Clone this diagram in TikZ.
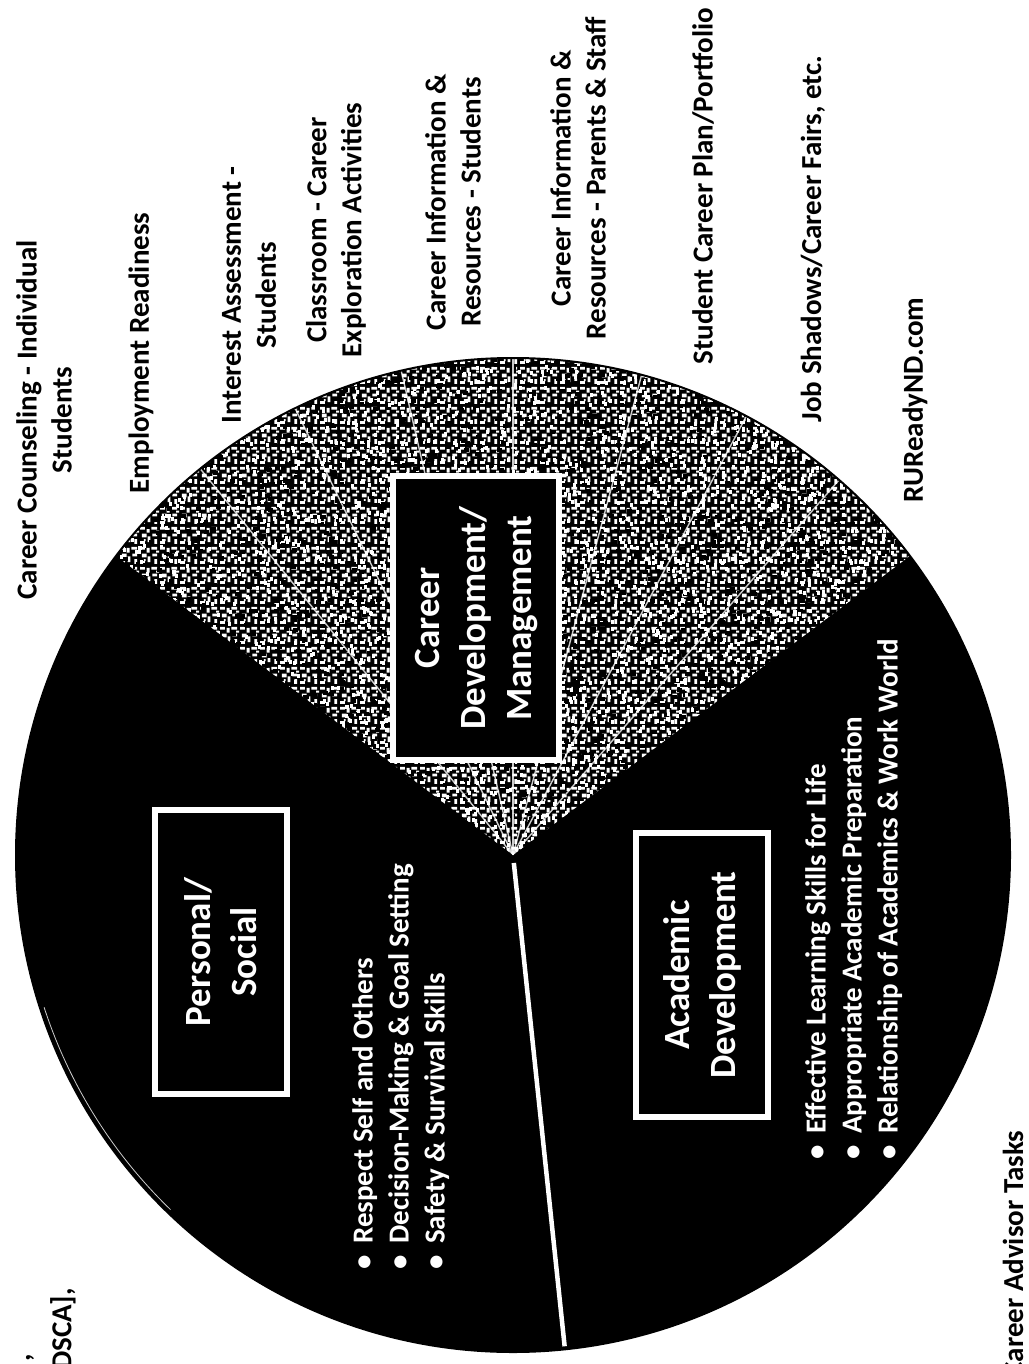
\documentclass[tikz,border=0pt]{standalone}
\usepackage{fontspec}
\setmainfont{Carlito}
\usetikzlibrary{patterns}
\pgfdeclarepatternformonly{speckle}{\pgfpointorigin}{\pgfpoint{20pt}{20pt}}{\pgfpoint{20pt}{20pt}}{%
  \pgfpathrectangle{\pgfpoint{0pt}{0pt}}{\pgfpoint{5pt}{3pt}}%
  \pgfpathrectangle{\pgfpoint{8pt}{2pt}}{\pgfpoint{3pt}{6pt}}%
  \pgfpathrectangle{\pgfpoint{15pt}{0pt}}{\pgfpoint{3pt}{5pt}}%
  \pgfpathrectangle{\pgfpoint{2pt}{7pt}}{\pgfpoint{5pt}{4pt}}%
  \pgfpathrectangle{\pgfpoint{13pt}{8pt}}{\pgfpoint{5pt}{3pt}}%
  \pgfpathrectangle{\pgfpoint{7pt}{12pt}}{\pgfpoint{3pt}{5pt}}%
  \pgfpathrectangle{\pgfpoint{0pt}{15pt}}{\pgfpoint{5pt}{3pt}}%
  \pgfpathrectangle{\pgfpoint{12pt}{15pt}}{\pgfpoint{6pt}{3pt}}%
  \pgfpathrectangle{\pgfpoint{17pt}{12pt}}{\pgfpoint{3pt}{2pt}}%
  \pgfpathrectangle{\pgfpoint{4pt}{3pt}}{\pgfpoint{2pt}{2pt}}%
  \pgfusepath{fill}}
\begin{document}
\begin{tikzpicture}[x=1pt,y=1pt,
  lab/.style={rotate=90, align=center, inner sep=0pt, font=\fontsize{29}{35}\selectfont\bfseries, text=black},
  catbox/.style={rotate=90, align=center, draw=white, fill=black, line width=6pt, text=white,
     font=\fontsize{37}{46}\selectfont\bfseries, minimum width=284pt, inner sep=0pt},
  bul/.style={rotate=90, align=left, inner sep=0pt, text=white, font=\fontsize{29}{36}\selectfont\bfseries},
  fanline/.style={white, line width=1.4pt, opacity=0.8}]
\useasboundingbox (0,0) rectangle (1028,-1364);
\clip (0,0) rectangle (1028,-1364);
\fill[white] (0,0) rectangle (1028,-1364);
\coordinate (O) at (513,-855);
% disc
\fill[black] (O) circle[radius=497];
% career sector (textured)
\begin{scope}
  \clip (O) -- ([shift={(O)}]37:497) arc[start angle=37, end angle=143, radius=497] -- cycle;
  \fill[black] (O) circle[radius=497];
  \fill[pattern=speckle, pattern color=white] (O) circle[radius=497];
  \pgfmathsetseed{42}
  \foreach \i in {1,...,1300}{
    \pgfmathsetmacro{\aa}{35+110*rnd}
    \pgfmathsetmacro{\rr}{500*sqrt(rnd)}
    \fill[black,shift={(O)}] (\aa:\rr) rectangle ++(5,4);
  }
  \foreach \i in {1,...,1800}{
    \pgfmathsetmacro{\aa}{35+110*rnd}
    \pgfmathsetmacro{\rr}{500*sqrt(rnd)}
    \fill[white,shift={(O)}] (\aa:\rr) rectangle ++(3,4);
  }
  \foreach \t in {49,62,75,90,103,116,129}
    \draw[fanline] (O) -- ([shift={(O)}]\t:497);
\end{scope}
% outline and dividers
\draw[line width=2pt] (O) circle[radius=497];
\draw[white, line width=4.5pt] ([shift={(O)}]-84:8) -- ([shift={(O)}]-84:494);
\draw[white, line width=0.8pt, opacity=0.8] ([shift={(O)}]198:493) arc[start angle=198, end angle=226, radius=493];
% category boxes
\node[catbox, minimum height=166pt] (career) at (476,-618) {Career\\Development/\\Management};
\node[catbox, minimum height=132pt] (personal) at (221,-952) {Personal/\\Social};
\node[catbox, minimum height=132pt] (academic) at (702,-975) {Academic\\Development};
% bullet lists
\node[bul, anchor=north west] (plist) at (352,-1270)
  {•\hspace{0.4em}Respect Self and Others\\
   •\hspace{0.4em}Decision-Making \& Goal Setting\\
   •\hspace{0.4em}Safety \& Survival Skills};
\node[bul, anchor=north west] (alist) at (805,-1160)
  {•\hspace{0.4em}Effective Learning Skills for Life\\
   •\hspace{0.4em}Appropriate Academic Preparation\\
   •\hspace{0.4em}Relationship of Academics \& Work World};
% outside labels
\node[lab] (cc)  at (44,-420)  {Career Counseling - Individual\\Students};
\node[lab] (er)  at (141,-353) {Employment Readiness};
\node[lab] (ia)  at (249,-295) {Interest Assessment -\\Students};
\node[lab] (cl)  at (336,-230) {Classroom - Career\\Exploration Activities};
\node[lab] (cis) at (453,-202) {Career Information \&\\Resources - Students};
\node[lab] (cip) at (578,-178) {Career Information \&\\Resources - Parents \& Staff};
\node[lab] (scp) at (703,-186) {Student Career Plan/Portfolio};
\node[lab] (js)  at (813,-239) {Job Shadows/Career Fairs, etc.};
\node[lab] (ru)  at (915,-400) {RUReadyND.com};
\node[lab] (cat) at (1013,-1254) {Career Advisor Tasks};
\node[lab] (dsca) at (63,-1329) {DSCA],};
\node[lab] (cm) at (30,-1358) {,};
\end{tikzpicture}
\end{document}
